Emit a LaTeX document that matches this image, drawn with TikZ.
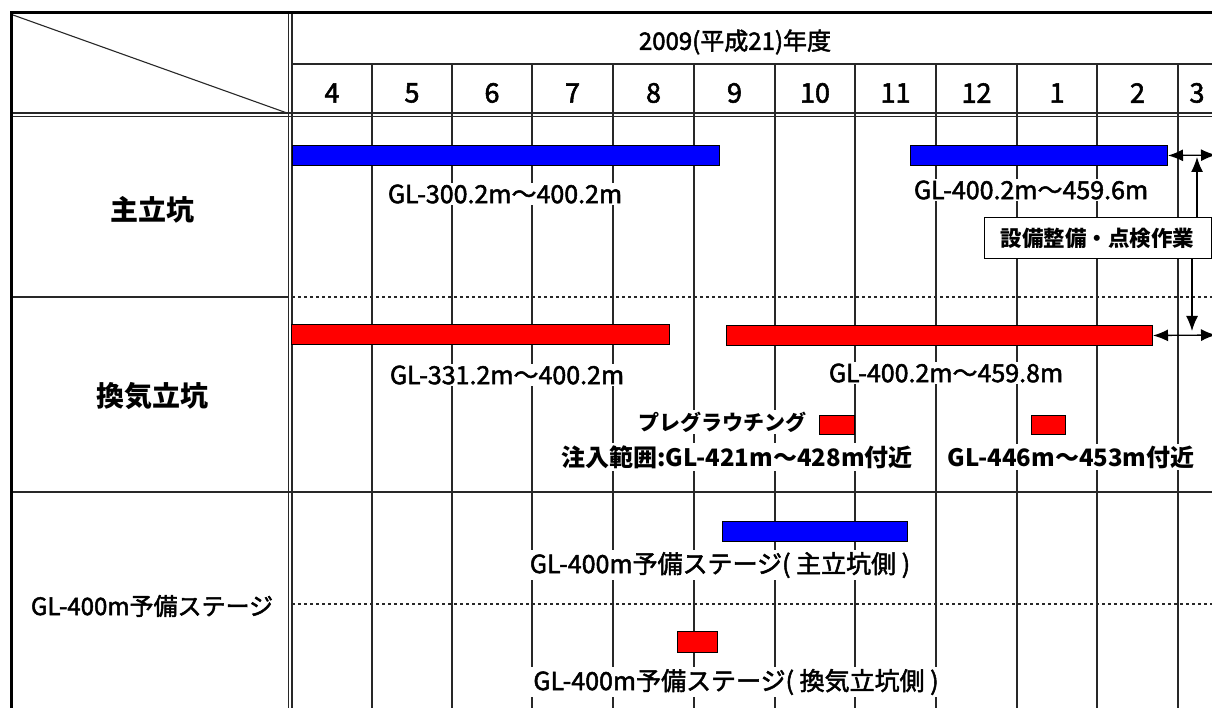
\documentclass[tikz,border=0pt]{standalone}
\usepackage{fontspec}
\setmainfont{Noto Sans CJK JP}
\newfontfamily\medfont{Noto Sans CJK JP}[FakeBold=2]
\newcommand{\medsel}{\medfont\bfseries}
\usetikzlibrary{arrows.meta}
\definecolor{barblue}{RGB}{0,0,255}
\definecolor{barred}{RGB}{255,0,0}
\definecolor{gridc}{RGB}{40,40,40}
\newfontfamily\medup{Noto Sans CJK JP}[RawFeature={embolden=2}]
\begin{document}
\begin{tikzpicture}[x=1pt,y=-1pt,
  gridline/.style={line width=1.3pt, gridc},
  framethick/.style={line width=3pt, black},
  dotline/.style={line width=1.3pt, gridc, dash pattern=on 3pt off 3pt},
  bar/.style={draw=black, line width=1pt, inner sep=0pt, anchor=north west},
  lbl/.style={fill=white, inner sep=2pt, font=\fontsize{25}{28}\selectfont\medup},
  blbl/.style={fill=white, inner sep=2pt, font=\fontsize{24}{27}\selectfont\bfseries},
  month/.style={inner sep=0pt, font=\fontsize{27}{30}\selectfont\medup},
  rowlbl/.style={inner sep=0pt, font=\fontsize{28}{30}\selectfont\bfseries},
  arr/.style={line width=1.3pt, black, {Latex[length=15pt,width=12pt]}-{Latex[length=15pt,width=12pt]}},
  sarr/.style={line width=1.3pt, black, -{Latex[length=15pt,width=12pt]}}
]
\useasboundingbox (0,0) rectangle (1212,708);
\clip (0,0) rectangle (1212,708);
\fill[white] (0,0) rectangle (1212,708);

% month grid
\foreach \x in {372,452,532,613,694,775,855,936,1017,1097,1178}
  \draw[gridline] (\x,64) -- (\x,708);
\draw[gridline] (292,64) -- (1212,64);
% header double line
\draw[gridline] (12,113) -- (1212,113);
\draw[gridline] (12,116.5) -- (1212,116.5);
% left column double line
\draw[gridline] (288.5,13) -- (288.5,708);
\draw[gridline] (292,13) -- (292,708);
% diagonal
\draw[gridline, line width=1.1pt] (13,15) -- (287,113);
% row lines
\draw[gridline] (12,297) -- (288.5,297);
\draw[dotline] (292,297) -- (1212,297);
\draw[gridline] (12,492) -- (1212,492);
\draw[dotline] (292,604) -- (1212,604);
% outer frame
\draw[framethick] (11.5,708) -- (11.5,13) -- (1212,13);

% header texts
\node[inner sep=0pt, font=\fontsize{24}{26}\selectfont\medup] (year) at (735,42) {2009(平成21)年度};
\node[month] (m4) at (332,93) {4};
\node[month] (m5) at (412,93) {5};
\node[month] (m6) at (492,93) {6};
\node[month] (m7) at (572.5,93) {7};
\node[month] (m8) at (653.5,93) {8};
\node[month] (m9) at (734.5,93) {9};
\node[month] (m10) at (815,93) {10};
\node[month] (m11) at (895.5,93) {11};
\node[month] (m12) at (976.5,93) {12};
\node[month] (m1) at (1057,93) {1};
\node[month] (m2) at (1137.5,93) {2};
\node[month] (m3) at (1197,93) {3};

% row labels
\node[rowlbl] (rA) at (152,210) {主立坑};
\node[rowlbl] (rB) at (152,396) {換気立坑};
\node[inner sep=0pt, font=\fontsize{24}{26}\selectfont\medup] (rC) at (152,606) {GL-400m予備ステージ};

% labels with white background
\node[lbl] (l1) at (505,194) {GL-300.2m～400.2m};
\node[lbl] (l2) at (1031,190) {GL-400.2m～459.6m};
\node[lbl] (l3) at (507,375) {GL-331.2m～400.2m};
\node[lbl] (l4) at (946,373) {GL-400.2m～459.8m};
\node[blbl, font=\fontsize{21}{24}\selectfont\bfseries] (l5) at (722,422) {プレグラウチング};
\node[blbl] (l6) at (737,457) {注入範囲:GL-421m～428m付近};
\node[blbl] (l7) at (1071,457) {GL-446m～453m付近};
\node[lbl] (l8) at (720,565) {GL-400m予備ステージ( 主立坑側 )};
\node[lbl] (l9) at (736,682) {GL-400m予備ステージ( 換気立坑側 )};

% bars
\node[bar, fill=barblue, minimum width=427pt, minimum height=20pt] (b1) at (292,145) {};
\node[bar, fill=barblue, minimum width=257pt, minimum height=20pt] (b2) at (910,145) {};
\node[bar, fill=barred, minimum width=378pt, minimum height=20pt] (r1) at (291,324) {};
\node[bar, fill=barred, minimum width=426pt, minimum height=20pt] (r2) at (726,325) {};
\node[bar, fill=barred, minimum width=35pt, minimum height=19pt] (p1) at (819,415) {};
\node[bar, fill=barred, minimum width=34pt, minimum height=19pt] (p2) at (1031,415) {};
\node[bar, fill=barblue, minimum width=185pt, minimum height=20pt] (b3) at (722,521) {};
\node[bar, fill=barred, minimum width=40pt, minimum height=21pt] (p3) at (677,631) {};

% maintenance box and arrows
\node[draw=black, line width=1pt, fill=white, minimum width=227pt, minimum height=41pt, inner sep=0pt,
      font=\fontsize{21.5}{24}\selectfont\bfseries] (box) at (1097.5,238.5) {設備整備・点検作業};
\coordinate (e1) at (1216,155);
\coordinate (e2) at (1216,335);
\coordinate (up) at (1197,157);
\coordinate (dn) at (1192,331);
\draw[arr] (b2.east) -- (e1);
\draw[arr] (r2.east) -- (e2);
\draw[sarr] (box.north -| up) -- (up);
\draw[sarr] (box.south -| dn) -- (dn);
\end{tikzpicture}
\end{document}
